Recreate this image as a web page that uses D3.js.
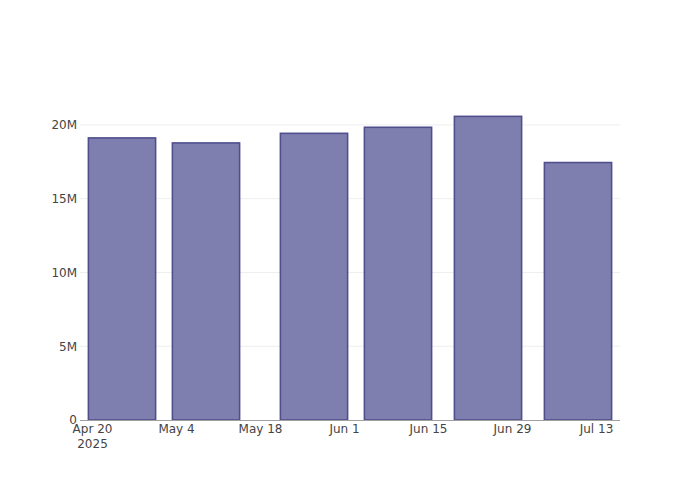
<!DOCTYPE html>
<html>
<head>
<meta charset="utf-8">
<script src="https://cdn.jsdelivr.net/npm/d3@7"></script>
<style>
  html, body { margin: 0; padding: 0; background: #fff; }
  svg { display: block; }
  text { font-family: "DejaVu Sans", Verdana, sans-serif; }
</style>
</head>
<body>
<svg id="chart" width="700" height="500"></svg>
<script>
// ---- data ----
const dates = ["2025-04-25", "2025-05-09", "2025-05-27", "2025-06-10", "2025-06-25", "2025-07-10"];
const values = [19120000, 18780000, 19430000, 19840000, 20580000, 17450000];
const xTickDates = ["2025-04-20", "2025-05-04", "2025-05-18", "2025-06-01", "2025-06-15", "2025-06-29", "2025-07-13"];
const yTickValues = [0, 5000000, 10000000, 15000000, 20000000];

// ---- layout ----
const W = 700, H = 500;
const margin = { left: 80, right: 80, top: 100, bottom: 80 };
const parse = d3.utcParse("%Y-%m-%d");
const DAY = 86400000;

const svg = d3.select("#chart");

const x = d3.scaleUtc()
  .domain([parse("2025-04-18"), parse("2025-07-17")])
  .range([margin.left, W - margin.right]);

const y = d3.scaleLinear()
  .domain([0, 21690000])
  .range([H - margin.bottom, margin.top]);

// gridlines
svg.append("g")
  .selectAll("line")
  .data(yTickValues.filter(v => v > 0))
  .join("line")
  .attr("x1", margin.left)
  .attr("x2", W - margin.right)
  .attr("y1", d => y(d))
  .attr("y2", d => y(d))
  .attr("stroke", "#eeeeee")
  .attr("stroke-width", 1);

// bars
const barHalf = 0.8 * 14 * DAY / 2;
const data = dates.map((d, i) => ({ date: parse(d), value: values[i] }));
svg.append("g")
  .selectAll("rect")
  .data(data)
  .join("rect")
  .attr("x", d => x(new Date(+d.date - barHalf)))
  .attr("width", d => x(new Date(+d.date + barHalf)) - x(new Date(+d.date - barHalf)))
  .attr("y", d => y(d.value))
  .attr("height", d => y(0) - y(d.value))
  .attr("fill", "#7f7faf")
  .attr("stroke", "#4f4f8d")
  .attr("stroke-width", 1.6);

// x axis
const fmt = d3.utcFormat("%b %-d");
const xAxis = d3.axisBottom(x)
  .tickValues(xTickDates.map(parse))
  .tickSize(0)
  .tickPadding(4)
  .tickFormat(d => fmt(d));
const gx = svg.append("g")
  .attr("transform", `translate(0,${y(0)})`)
  .call(xAxis);
gx.select(".domain").attr("stroke", "#a0a0a0").attr("stroke-width", 1)
  .attr("d", `M${margin.left},0.5H${W - margin.right}`);
gx.selectAll(".tick text")
  .attr("fill", "#444")
  .attr("font-size", 12)
  .attr("font-family", "DejaVu Sans, Verdana, sans-serif");
gx.selectAll(".tick").filter((d, i) => i === 0)
  .select("text")
  .append("tspan")
  .attr("x", 0)
  .attr("dy", "1.3em")
  .text("2025");

// y axis
const yFmt = v => v === 0 ? "0" : (v / 1e6) + "M";
const yAxis = d3.axisLeft(y)
  .tickValues(yTickValues)
  .tickSize(0)
  .tickPadding(2)
  .tickFormat(yFmt);
const gy = svg.append("g")
  .attr("transform", `translate(${margin.left - 1},0)`)
  .call(yAxis);
gy.select(".domain").remove();
gy.selectAll(".tick text")
  .attr("fill", "#444")
  .attr("font-size", 12)
  .attr("font-family", "DejaVu Sans, Verdana, sans-serif");
</script>
</body>
</html>
